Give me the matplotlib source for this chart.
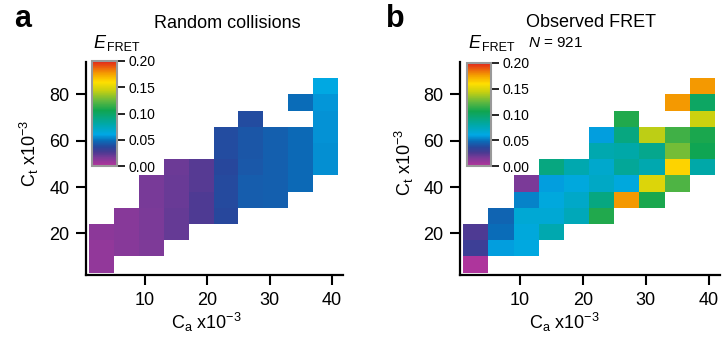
import numpy as np
import matplotlib
matplotlib.use("Agg")
import matplotlib.pyplot as plt
from matplotlib.colors import LinearSegmentedColormap, Normalize
from matplotlib.cm import ScalarMappable

plt.rcParams["font.family"] = ["Liberation Sans", "DejaVu Sans"]
plt.rcParams["mathtext.fontset"] = "custom"
plt.rcParams["mathtext.rm"] = "Liberation Sans"
plt.rcParams["mathtext.it"] = "Liberation Sans:italic"

# --------------------------------------------------
# Data (bins and E_FRET per bin, NaN = empty bin)
# rows = Ct bins bottom->top, columns = Ca bins left->right
# --------------------------------------------------
ca_edges = [1, 5, 9, 13, 17, 21, 25, 29, 33, 37, 41]
ct_edges = [3, 10, 17, 24, 31, 38, 45, 52, 59, 66, 73, 80, 87]
nan = np.nan

random_fret = [
    [0.010, nan, nan, nan, nan, nan, nan, nan, nan, nan],
    [0.010, 0.013, 0.015, nan, nan, nan, nan, nan, nan, nan],
    [0.011, 0.013, 0.016, 0.021, nan, nan, nan, nan, nan, nan],
    [nan, 0.013, 0.016, 0.021, 0.025, 0.036, nan, nan, nan, nan],
    [nan, nan, 0.017, 0.020, 0.025, 0.037, 0.043, 0.044, nan, nan],
    [nan, nan, 0.017, 0.020, 0.024, 0.037, 0.043, 0.044, 0.047, nan],
    [nan, nan, nan, 0.019, 0.024, 0.036, 0.042, 0.044, 0.047, 0.055],
    [nan, nan, nan, nan, nan, 0.038, 0.041, 0.044, 0.047, 0.055],
    [nan, nan, nan, nan, nan, 0.038, 0.041, 0.044, 0.047, 0.056],
    [nan, nan, nan, nan, nan, nan, 0.038, nan, nan, 0.056],
    [nan, nan, nan, nan, nan, nan, nan, nan, 0.048, 0.057],
    [nan, nan, nan, nan, nan, nan, nan, nan, nan, 0.061],
]

observed_fret = [
    [0.002, nan, nan, nan, nan, nan, nan, nan, nan, nan],
    [0.030, 0.058, 0.062, nan, nan, nan, nan, nan, nan, nan],
    [0.025, 0.048, 0.064, 0.078, nan, nan, nan, nan, nan, nan],
    [nan, 0.046, 0.066, 0.066, 0.075, 0.110, nan, nan, nan, nan],
    [nan, nan, 0.053, 0.063, 0.070, 0.092, 0.177, 0.108, nan, nan],
    [nan, nan, 0.016, 0.058, 0.063, 0.071, 0.063, 0.150, 0.120, nan],
    [nan, nan, nan, 0.092, 0.078, 0.068, 0.085, 0.078, 0.163, 0.080],
    [nan, nan, nan, nan, nan, 0.078, 0.080, 0.088, 0.128, 0.105],
    [nan, nan, nan, nan, nan, 0.058, 0.092, 0.142, 0.117, 0.108],
    [nan, nan, nan, nan, nan, nan, 0.110, nan, nan, 0.145],
    [nan, nan, nan, nan, nan, nan, nan, nan, 0.177, 0.100],
    [nan, nan, nan, nan, nan, nan, nan, nan, nan, 0.177],
]

titles = ["Random collisions", "Observed FRET"]
letters = ["a", "b"]
n_obs = 921
cbar_ticks = [0.00, 0.05, 0.10, 0.15, 0.20]

# --------------------------------------------------
# Colormap (rainbow: magenta -> blue -> green -> yellow -> red)
# --------------------------------------------------
cmap = LinearSegmentedColormap.from_list("efret", [
    (0.00, "#b4349c"), (0.08, "#7a3a98"), (0.13, "#4a3a92"),
    (0.18, "#27479c"), (0.24, "#0a6cb8"), (0.30, "#00a8e6"),
    (0.40, "#00a8a8"), (0.53, "#10a550"), (0.62, "#60b840"),
    (0.72, "#c8d010"), (0.80, "#ffdf00"), (0.88, "#f5a000"),
    (1.00, "#e2231a"),
])
norm = Normalize(0, 0.2)

W, H = 722, 343
fig = plt.figure(figsize=(W / 100, H / 100), dpi=100)

def px(x0, y0, x1, y1):
    # pixel box (top-left origin) -> figure fraction rect
    return [x0 / W, 1 - y1 / H, (x1 - x0) / W, (y1 - y0) / H]

axes_boxes = [px(86, 62, 343, 275), px(460, 62, 720, 275)]
cbar_boxes = [px(92, 61, 117, 166), px(467, 63, 491, 166)]
xlab_pos = [(0.47, -0.17), (0.40, -0.17)]
ylab_pos = [(-0.175, 0.57), (-0.17, 0.53)]

for i, data in enumerate([random_fret, observed_fret]):
    ax = fig.add_axes(axes_boxes[i])
    z = np.ma.masked_invalid(np.array(data))
    ax.pcolormesh(ca_edges, ct_edges, z, cmap=cmap, norm=norm)
    ax.set_xlim(0.5, 41.8)
    ax.set_ylim(2, 94)
    ax.set_xticks([10, 20, 30, 40])
    ax.set_yticks([20, 40, 60, 80])
    for s in ["top", "right"]:
        ax.spines[s].set_visible(False)
    for s in ["left", "bottom"]:
        ax.spines[s].set_linewidth(1.6)
    ax.tick_params(direction="out", length=7, width=1.5, labelsize=13, pad=5)
    ax.set_xlabel(r"C$_\mathregular{a}$ x10$^{\mathregular{-3}}$", fontsize=13)
    ax.set_ylabel(r"C$_\mathregular{t}$ x10$^{\mathregular{-3}}$", fontsize=13)
    ax.xaxis.set_label_coords(*xlab_pos[i])
    ax.yaxis.set_label_coords(*ylab_pos[i])

    cax = fig.add_axes(cbar_boxes[i])
    cb = fig.colorbar(ScalarMappable(norm=norm, cmap=cmap), cax=cax, ticks=cbar_ticks)
    cb.ax.set_yticklabels(["%.2f" % t for t in cbar_ticks])
    cb.outline.set_edgecolor("#999999")
    cb.outline.set_linewidth(1.5)
    cb.ax.tick_params(direction="out", length=6, width=1.2, labelsize=10, pad=2)

    ex = [93, 468][i]
    fig.text(ex / W, 1 - 48 / H, "E", fontsize=13, style="italic")
    fig.text((ex + 14) / W, 1 - 51 / H, "FRET", fontsize=9)

fig.text(227 / W, 1 - 28 / H, titles[0], fontsize=13, ha="center")
fig.text(591 / W, 1 - 27 / H, titles[1], fontsize=13, ha="center")
fig.text(528 / W, 1 - 47 / H, r"$N$ = %d" % n_obs, fontsize=11)
fig.text(14 / W, 1 - 27 / H, letters[0], fontsize=22, fontweight="bold")
fig.text(386 / W, 1 - 27 / H, letters[1], fontsize=22, fontweight="bold")

fig.savefig("out.png", dpi=100)
